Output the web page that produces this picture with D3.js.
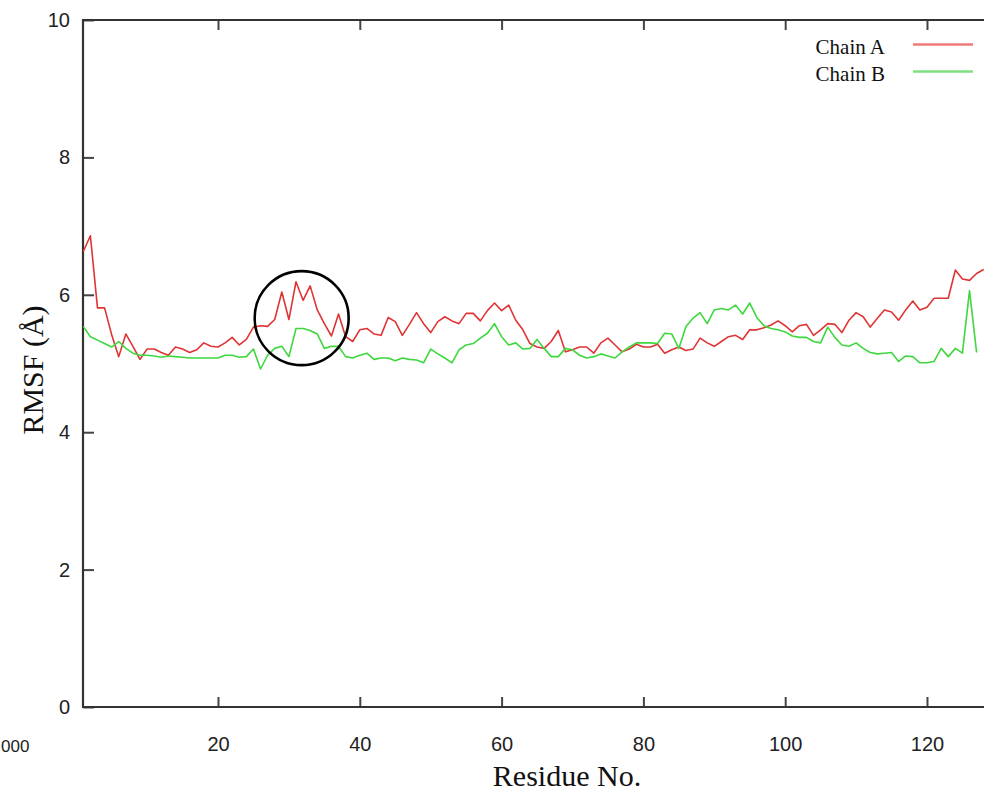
<!DOCTYPE html>
<html>
<head>
<meta charset="utf-8">
<script src="https://cdn.jsdelivr.net/npm/d3@7"></script>
<style>
  body { margin: 0; background: #fff; }
  svg { display: block; }
  .tick text { font-family: "Liberation Sans", Arial, sans-serif; font-size: 20px; fill: #222; }
  .axis-label { font-family: "Liberation Serif", "Times New Roman", serif; font-size: 30px; fill: #111; }
  .legend text { font-family: "Liberation Serif", "Times New Roman", serif; font-size: 21px; fill: #111; }
</style>
</head>
<body>
<svg class="chart" width="984" height="791"></svg>
<script>
// RMSF per residue (Å)
const chainA = [
  6.63, 6.86, 5.81, 5.81, 5.42, 5.10, 5.43, 5.25, 5.06, 5.21,
  5.21, 5.16, 5.12, 5.24, 5.21, 5.16, 5.20, 5.30, 5.25, 5.24,
  5.30, 5.38, 5.27, 5.35, 5.53, 5.55, 5.54, 5.64, 6.04, 5.64,
  6.19, 5.92, 6.13, 5.78, 5.58, 5.40, 5.72, 5.39, 5.32, 5.49,
  5.51, 5.43, 5.41, 5.67, 5.61, 5.41, 5.57, 5.74, 5.58, 5.45,
  5.61, 5.68, 5.62, 5.58, 5.73, 5.73, 5.62, 5.77, 5.88, 5.77,
  5.85, 5.63, 5.49, 5.29, 5.24, 5.22, 5.32, 5.48, 5.17, 5.20,
  5.24, 5.24, 5.15, 5.30, 5.37, 5.27, 5.17, 5.21, 5.28, 5.24,
  5.24, 5.28, 5.15, 5.20, 5.24, 5.19, 5.21, 5.37, 5.30, 5.25,
  5.32, 5.39, 5.41, 5.35, 5.49, 5.49, 5.52, 5.56, 5.62, 5.55,
  5.46, 5.55, 5.57, 5.41, 5.49, 5.58, 5.57, 5.45, 5.63, 5.74,
  5.68, 5.53, 5.66, 5.78, 5.75, 5.63, 5.78, 5.91, 5.78, 5.82,
  5.95, 5.95, 5.95, 6.36, 6.23, 6.21, 6.31, 6.37
];
const chainB = [
  5.54, 5.39, 5.34, 5.29, 5.24, 5.32, 5.22, 5.15, 5.12, 5.12,
  5.11, 5.09, 5.11, 5.10, 5.09, 5.08, 5.08, 5.08, 5.08, 5.08,
  5.12, 5.12, 5.09, 5.10, 5.21, 4.92, 5.12, 5.22, 5.25, 5.10,
  5.51, 5.51, 5.48, 5.43, 5.22, 5.25, 5.25, 5.10, 5.08, 5.12,
  5.15, 5.06, 5.08, 5.08, 5.04, 5.08, 5.06, 5.05, 5.01, 5.21,
  5.14, 5.08, 5.01, 5.20, 5.27, 5.29, 5.37, 5.44, 5.58, 5.39,
  5.27, 5.30, 5.21, 5.22, 5.35, 5.22, 5.10, 5.10, 5.22, 5.20,
  5.12, 5.08, 5.10, 5.14, 5.11, 5.08, 5.17, 5.24, 5.30, 5.30,
  5.30, 5.29, 5.44, 5.43, 5.22, 5.54, 5.66, 5.74, 5.58, 5.78,
  5.80, 5.78, 5.85, 5.72, 5.88, 5.67, 5.55, 5.51, 5.49, 5.46,
  5.40, 5.38, 5.38, 5.32, 5.30, 5.53, 5.38, 5.27, 5.25, 5.30,
  5.22, 5.16, 5.14, 5.15, 5.16, 5.03, 5.11, 5.10, 5.01, 5.01,
  5.03, 5.22, 5.10, 5.22, 5.15, 6.06, 5.16
];
const seriesNames = ["Chain A", "Chain B"];
const xTicks = [20, 40, 60, 80, 100, 120];
const yTicks = [0, 2, 4, 6, 8, 10];
// highlighted region (residue, RMSF)
const highlight = { residue: 31.8, rmsf: 5.66 };

// config
const plotLeft = 83;
const plotTop = 20;
const plotBottom = 707;
const width = 984;
const lineColors = ["#e03434", "#3ed83e"];
const legendColors = ["#f07a7a", "#7fe07f"];

const svg = d3.select("svg.chart");

const x = d3.scaleLinear().domain([1, 128]).range([83.3, 983.7]);
const y = d3.scaleLinear().domain([0, 10]).range([plotBottom, plotTop]);

function translate(a, b) {
  return `translate(${a}, ${b})`;
}

// axes (ticks point inwards)
const gx = svg.append("g")
  .attr("transform", translate(0, plotBottom))
  .call(d3.axisBottom(x).tickValues(xTicks).tickSize(-10).tickPadding(30));

const gxTop = svg.append("g")
  .attr("transform", translate(0, plotTop))
  .call(d3.axisTop(x).tickValues(xTicks).tickSize(-10).tickFormat(""));

const gy = svg.append("g")
  .attr("transform", translate(plotLeft, 0))
  .call(d3.axisLeft(y).tickValues(yTicks).tickSize(-11).tickPadding(13));

[gx, gxTop, gy].forEach(g => {
  g.select(".domain").remove();
  g.selectAll(".tick line").attr("stroke", "#444").attr("stroke-width", 2);
});

// frame
svg.append("path")
  .attr("d", `M${width},${plotTop}H${plotLeft}V${plotBottom}H${width}`)
  .attr("fill", "none")
  .attr("stroke", "#333")
  .attr("stroke-width", 2.2);

// lines
const line = d3.line()
  .x((d, i) => x(i + 1))
  .y(d => y(d));

[chainA, chainB].forEach((values, k) => {
  svg.append("path")
    .datum(values)
    .attr("fill", "none")
    .attr("stroke", lineColors[k])
    .attr("stroke-width", 1.6)
    .attr("stroke-linejoin", "round")
    .attr("d", line);
});

// circle around the loop
svg.append("circle")
  .attr("cx", x(highlight.residue))
  .attr("cy", y(highlight.rmsf))
  .attr("r", 47)
  .attr("fill", "none")
  .attr("stroke", "#000")
  .attr("stroke-width", 2.6);

// legend
const legend = svg.append("g").attr("class", "legend");
seriesNames.forEach((name, k) => {
  const ly = 44.5 + k * 27;
  legend.append("text")
    .attr("x", 885)
    .attr("y", ly + 9)
    .attr("text-anchor", "end")
    .text(name);
  legend.append("line")
    .attr("x1", 913).attr("x2", 973)
    .attr("y1", ly).attr("y2", ly)
    .attr("stroke", legendColors[k])
    .attr("stroke-width", 2.6);
});

// axis titles
svg.append("text")
  .attr("class", "axis-label")
  .attr("x", 567)
  .attr("y", 786)
  .attr("text-anchor", "middle")
  .text("Residue No.");

svg.append("text")
  .attr("class", "axis-label")
  .attr("transform", translate(43, 370) + " rotate(-90)")
  .attr("text-anchor", "middle")
  .text("RMSF (Å)");

// stray label at the left edge
svg.append("text")
  .attr("x", 1)
  .attr("y", 752)
  .attr("font-family", "Liberation Sans, Arial, sans-serif")
  .attr("font-size", 17)
  .attr("fill", "#222")
  .text("000");
</script>
</body>
</html>
